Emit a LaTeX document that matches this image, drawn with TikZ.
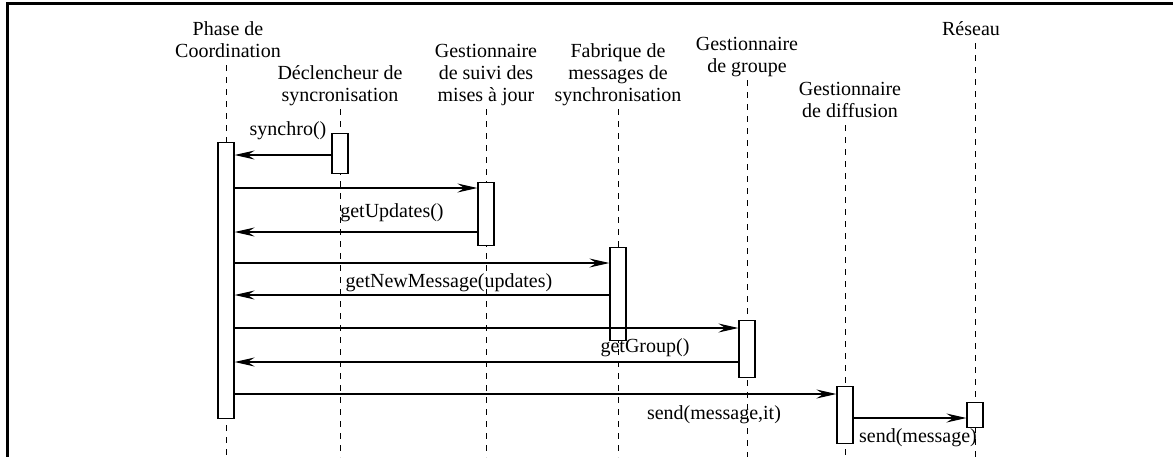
\documentclass[tikz,border=0pt]{standalone}
\usepackage{fontspec}
\setmainfont{Liberation Serif}
\usetikzlibrary{arrows.meta}
\begin{document}
\begin{tikzpicture}[x=0.5pt,y=-0.5pt,
  font=\fontsize{10}{11}\selectfont,
  hdr/.style={align=center, anchor=south, inner xsep=0pt, inner ysep=0.5pt, execute at end node=\strut},
  act/.style={draw, fill=white, line width=0.6pt, minimum width=8pt, inner sep=0pt, anchor=north},
  life/.style={draw, line width=0.5pt, dash pattern=on 3pt off 3pt},
  msg/.style={draw, line width=0.6pt, -{Stealth[length=10pt,width=4.5pt,inset=3.5pt]}},
  lbl/.style={inner sep=0pt},
  frame/.style={line width=1.5pt}]
\useasboundingbox (0,0) rectangle (1173,457);
% frame
\coordinate (fa) at (1173,3.5);
\coordinate (fb) at (7.5,3.5);
\coordinate (fc) at (7.5,457);
\draw[frame] (fa) -- (fb) -- (fc);
% headers
\node[hdr] (h1) at (228,65) {Phase de\\Coordination};
\node[hdr] (h2) at (340,109) {Déclencheur de\\syncronisation};
\node[hdr] (h3) at (486,109) {Gestionnaire\\de suivi des\\mises à jour};
\node[hdr] (h4) at (618,109) {Fabrique de\\messages de\\synchronisation};
\node[hdr] (h5) at (747,80) {Gestionnaire\\de groupe};
\node[hdr] (h6) at (850,125) {Gestionnaire\\de diffusion};
\node[hdr] (h7) at (971,43) {Réseau};
% lifeline ends
\coordinate (e1) at (226,457);
\coordinate (e2) at (340,457);
\coordinate (e3) at (486,457);
\coordinate (e4) at (618,457);
\coordinate (e5) at (747,457);
\coordinate (e6) at (845,457);
\coordinate (e7) at (975,457);
\draw[life] (h1.south -| e1) -- (e1);
\draw[life] (h2.south -| e2) -- (e2);
\draw[life] (h3.south -| e3) -- (e3);
\draw[life] (h4.south -| e4) -- (e4);
\draw[life] (h5.south -| e5) -- (e5);
\draw[life] (h6.south -| e6) -- (e6);
\draw[life] (h7.south -| e7) -- (e7);
% activations
\node[act, minimum height=138pt] (a1) at (226,142) {};
\node[act, minimum height=20pt] (a2) at (340,133) {};
\node[act, minimum height=31.5pt] (a3) at (486,182) {};
\node[act, minimum height=46.5pt] (a4) at (618,247) {};
\node[act, minimum height=28.5pt] (a5) at (747,320) {};
\node[act, minimum height=28.5pt] (a6) at (845,386) {};
\node[act, minimum height=12.5pt] (a7) at (975,402) {};
% message levels
\coordinate (y1) at (0,155);
\coordinate (y2) at (0,188);
\coordinate (y3) at (0,232);
\coordinate (y4) at (0,263);
\coordinate (y5) at (0,295);
\coordinate (y6) at (0,328);
\coordinate (y7) at (0,362);
\coordinate (y8) at (0,394);
\coordinate (y9) at (0,418);
\draw[msg] (a2.west |- y1) -- (a1.east |- y1);
\draw[msg] (a1.east |- y2) -- (a3.west |- y2);
\draw[msg] (a3.west |- y3) -- (a1.east |- y3);
\draw[msg] (a1.east |- y4) -- (a4.west |- y4);
\draw[msg] (a4.west |- y5) -- (a1.east |- y5);
\draw[msg] (a1.east |- y6) -- (a5.west |- y6);
\draw[msg] (a5.west |- y7) -- (a1.east |- y7);
\draw[msg] (a1.east |- y8) -- (a6.west |- y8);
\draw[msg] (a6.east |- y9) -- (a7.west |- y9);
% labels
\node[lbl] (l1) at (288,131) {synchro()};
\node[lbl] (l2) at (392,213) {getUpdates()};
\node[lbl] (l3) at (449,283) {getNewMessage(updates)};
\node[lbl] (l4) at (645,348) {getGroup()};
\node[lbl] (l5) at (714,415) {send(message,it)};
\node[lbl] (l6) at (918,438) {send(message)};
\end{tikzpicture}
\end{document}
